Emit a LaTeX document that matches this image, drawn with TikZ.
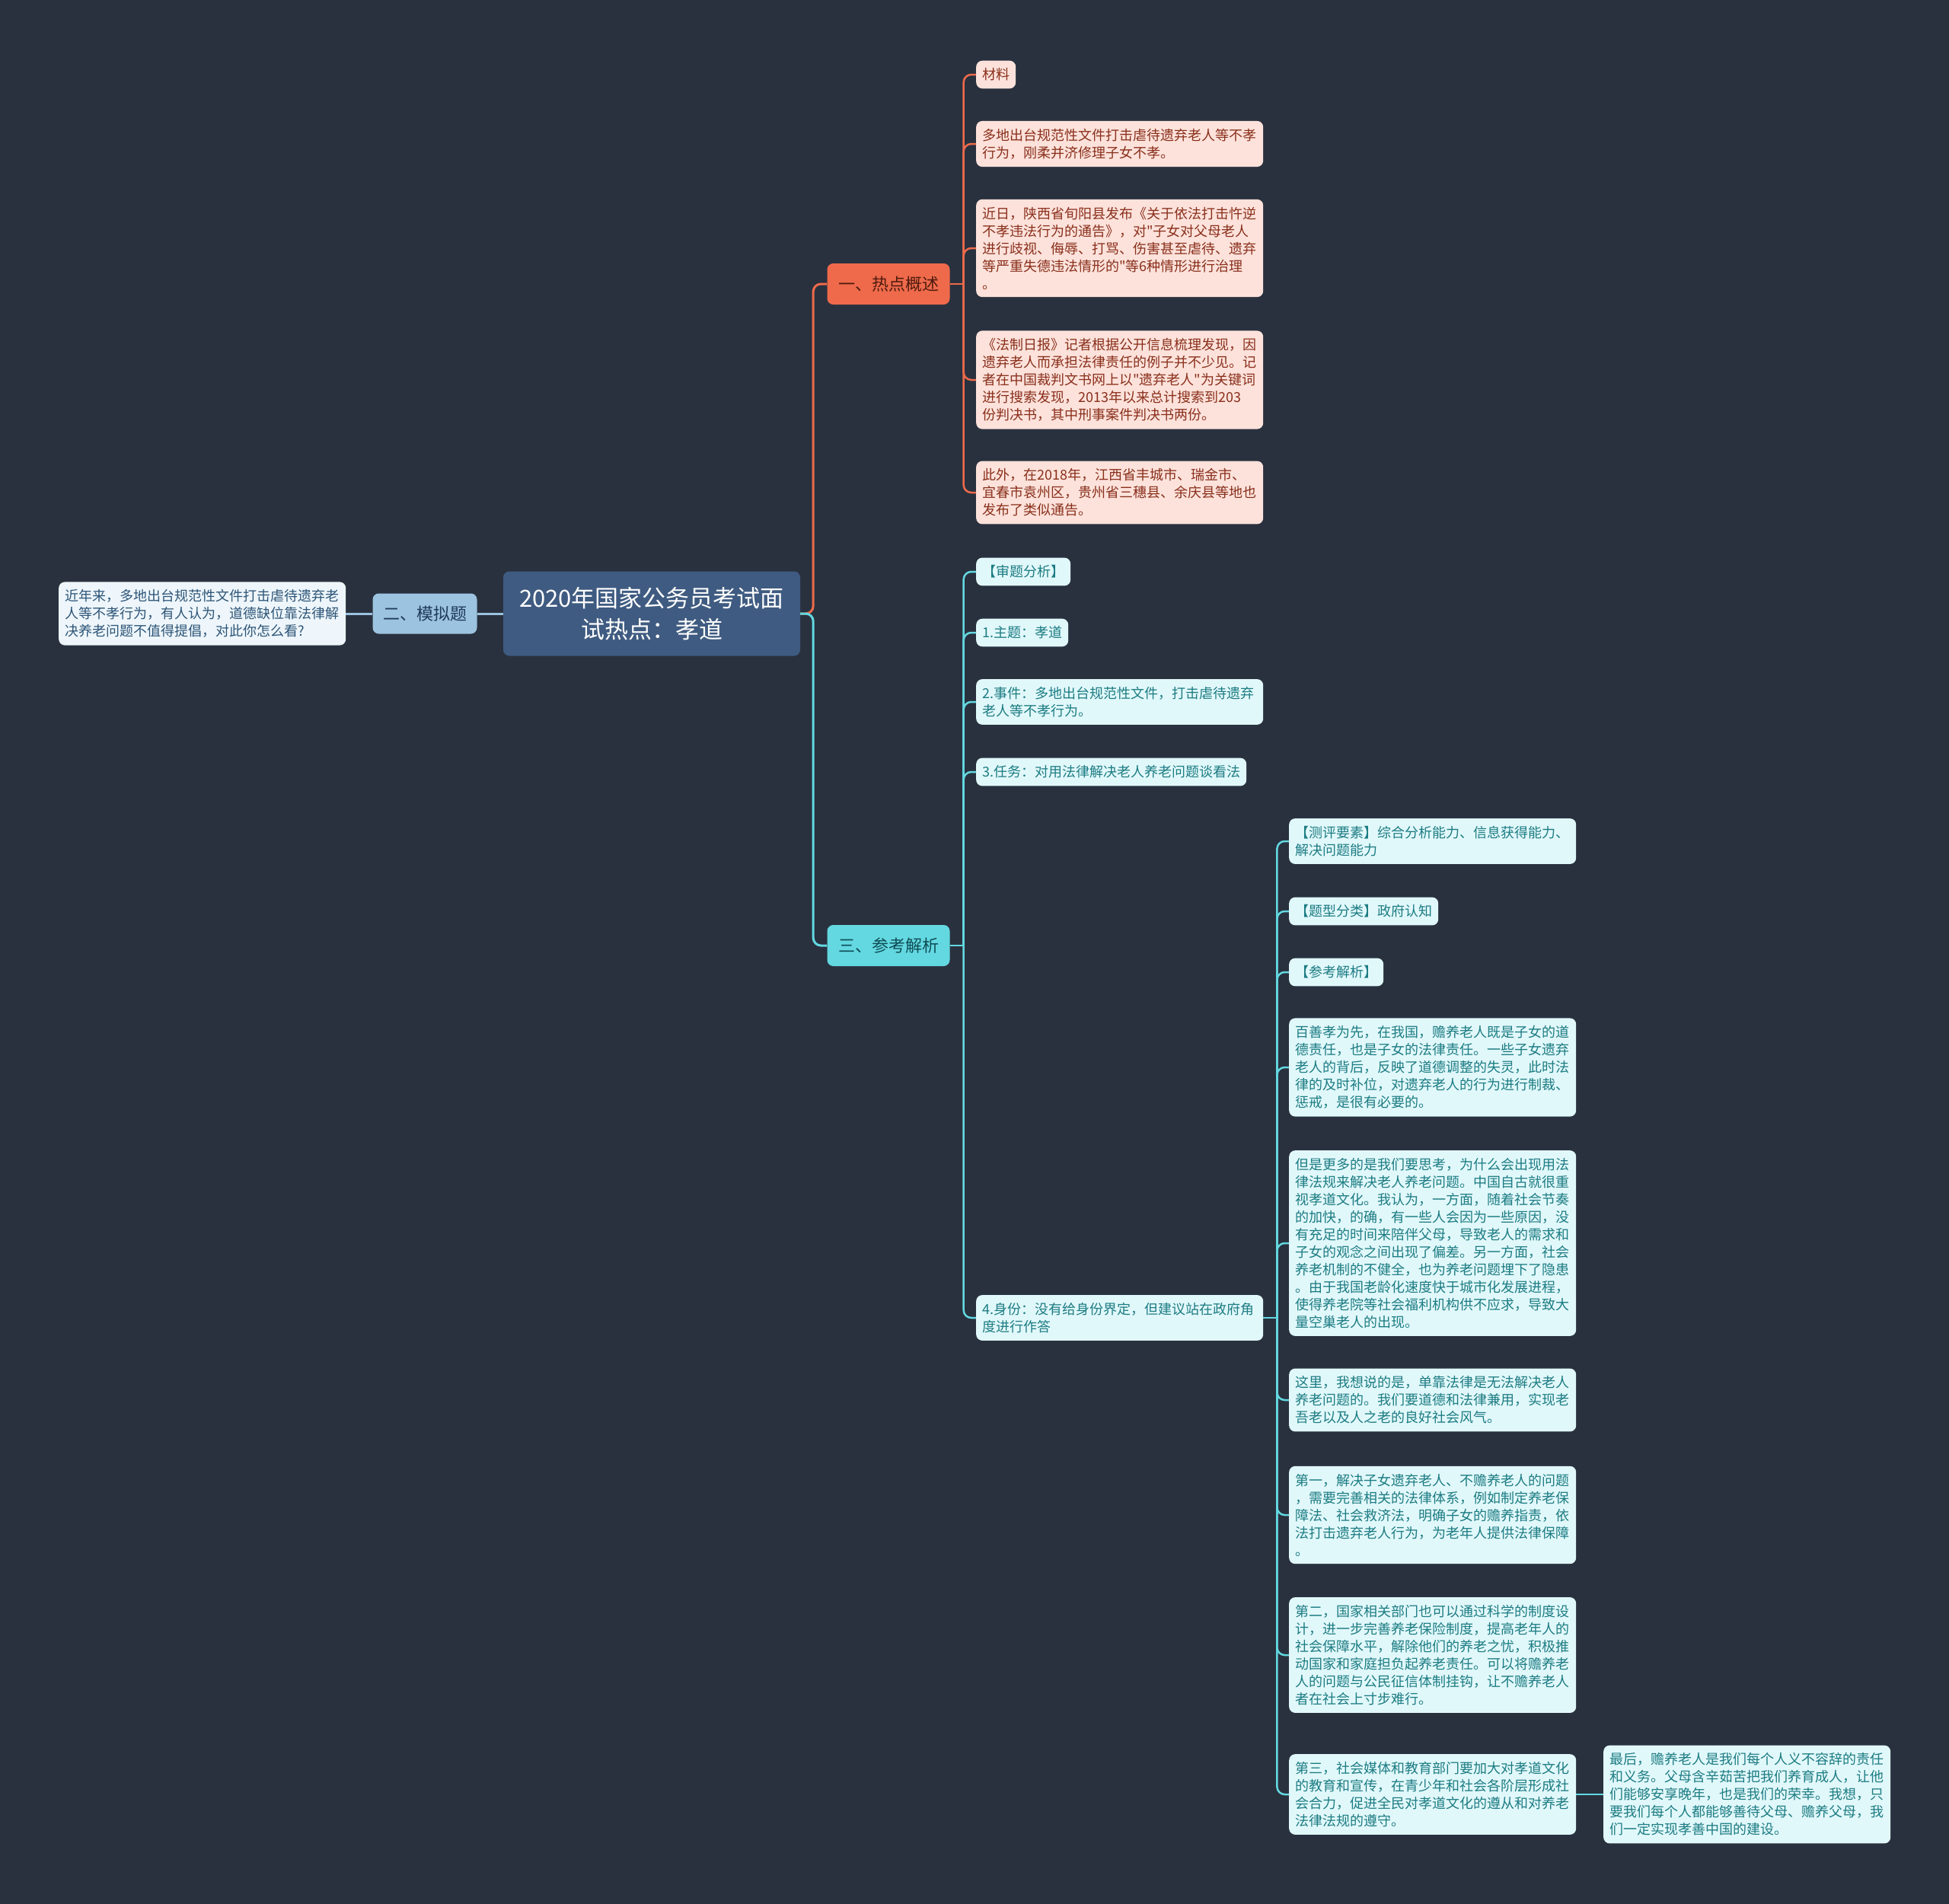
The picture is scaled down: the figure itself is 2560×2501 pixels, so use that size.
\documentclass[tikz,border=0pt]{standalone}
\usepackage{fontspec}
\setmainfont{Noto Sans CJK SC}[Ligatures=TeXOff]
\definecolor{bg}{HTML}{29313F}
\definecolor{rootfill}{HTML}{3F5B81}
\definecolor{simfill}{HTML}{9CC3DF}
\definecolor{simtext}{HTML}{1F3B5C}
\definecolor{qfill}{HTML}{EEF6FB}
\definecolor{qtext}{HTML}{2D5577}
\definecolor{hotfill}{HTML}{EE6A4B}
\definecolor{hottext}{HTML}{4E1B0F}
\definecolor{hotleaf}{HTML}{FCE2DB}
\definecolor{hotleaftext}{HTML}{8A2F1B}
\definecolor{reffill}{HTML}{63D8E0}
\definecolor{reftext}{HTML}{0F4D57}
\definecolor{refleaf}{HTML}{E1F8FA}
\definecolor{refleaftext}{HTML}{1C7C83}
\begin{document}
\begin{tikzpicture}[x=1pt,y=-1pt,
    box/.style={rounded corners=8pt,inner xsep=8pt,inner ysep=10pt},
    leaf/.style={box,anchor=west,align=left,font=\fontsize{18}{23}\selectfont},
    para/.style={leaf,text width=361pt},
    hotbox/.style={fill=hotleaf,text=hotleaftext},
    refbox/.style={fill=refleaf,text=refleaftext},
    branch/.style={box,align=center,minimum width=161pt,minimum height=54pt,font=\fontsize{22}{28}\selectfont},
    hotline/.style={draw=hotfill,line width=2.5pt,rounded corners=10pt},
    refline/.style={draw=reffill,line width=2.5pt,rounded corners=10pt},
    simline/.style={draw=simfill,line width=3pt}]

    % Background
    \fill[bg] (0,0) rectangle (2560,2501);
    \useasboundingbox (0,0) rectangle (2560,2501);

    % Root and left side
    \node[box,fill=rootfill,text=white,align=center,minimum width=390pt,minimum height=111pt,
          font=\fontsize{31}{41}\selectfont] (root) at (856,806) {2020年国家公务员考试面\\试热点：孝道};
    \node[box,fill=simfill,text=simtext,minimum width=137pt,minimum height=53pt,
          font=\fontsize{22}{28}\selectfont] (sim) at (558,806) {二、模拟题};
    \node[leaf,fill=qfill,text=qtext,text width=361pt] (simq) at (77,806)
        {近年来，多地出台规范性文件打击虐待遗弃老\\人等不孝行为，有人认为，道德缺位靠法律解\\决养老问题不值得提倡，对此你怎么看?};

    % Branches
    \node[branch,fill=hotfill,text=hottext] (hot) at (1167,373) {一、热点概述};
    \node[branch,fill=reffill,text=reftext] (ref) at (1167,1242) {三、参考解析};

    % Hot topic leaves
    \node[leaf,hotbox] (mat) at (1282,98) {材料};
    \node[para,hotbox] (hot1) at (1282,189) {多地出台规范性文件打击虐待遗弃老人等不孝\\行为，刚柔并济修理子女不孝。};
    \node[para,hotbox] (hot2) at (1282,326) {近日，陕西省旬阳县发布《关于依法打击忤逆\\不孝违法行为的通告》，对"子女对父母老人\\进行歧视、侮辱、打骂、伤害甚至虐待、遗弃\\等严重失德违法情形的"等6种情形进行治理\\。};
    \node[para,hotbox] (hot3) at (1282,499) {《法制日报》记者根据公开信息梳理发现，因\\遗弃老人而承担法律责任的例子并不少见。记\\者在中国裁判文书网上以"遗弃老人"为关键词\\进行搜索发现，2013年以来总计搜索到203\\份判决书，其中刑事案件判决书两份。};
    \node[para,hotbox] (hot4) at (1282,647) {此外，在2018年，江西省丰城市、瑞金市、\\宜春市袁州区，贵州省三穗县、余庆县等地也\\发布了类似通告。};

    % Analysis leaves
    \node[leaf,refbox] (ana) at (1282,751) {【审题分析】};
    \node[leaf,refbox] (ana1) at (1282,831) {1.主题：孝道};
    \node[para,refbox] (ana2) at (1282,922) {2.事件：多地出台规范性文件，打击虐待遗弃\\老人等不孝行为。};
    \node[leaf,refbox] (ana3) at (1282,1014) {3.任务：对用法律解决老人养老问题谈看法};
    \node[para,refbox] (ana4) at (1282,1731) {4.身份：没有给身份界定，但建议站在政府角\\度进行作答};

    % Answer leaves
    \node[para,refbox] (ans1) at (1693,1105) {【测评要素】综合分析能力、信息获得能力、\\解决问题能力};
    \node[leaf,refbox] (ans2) at (1693,1197) {【题型分类】政府认知};
    \node[leaf,refbox] (ans3) at (1693,1277) {【参考解析】};
    \node[para,refbox] (ans4) at (1693,1402) {百善孝为先，在我国，赡养老人既是子女的道\\德责任，也是子女的法律责任。一些子女遗弃\\老人的背后，反映了道德调整的失灵，此时法\\律的及时补位，对遗弃老人的行为进行制裁、\\惩戒，是很有必要的。};
    \node[para,refbox] (ans5) at (1693,1633) {但是更多的是我们要思考，为什么会出现用法\\律法规来解决老人养老问题。中国自古就很重\\视孝道文化。我认为，一方面，随着社会节奏\\的加快，的确，有一些人会因为一些原因，没\\有充足的时间来陪伴父母，导致老人的需求和\\子女的观念之间出现了偏差。另一方面，社会\\养老机制的不健全，也为养老问题埋下了隐患\\。由于我国老龄化速度快于城市化发展进程，\\使得养老院等社会福利机构供不应求，导致大\\量空巢老人的出现。};
    \node[para,refbox] (ans6) at (1693,1839) {这里，我想说的是，单靠法律是无法解决老人\\养老问题的。我们要道德和法律兼用，实现老\\吾老以及人之老的良好社会风气。};
    \node[para,refbox] (ans7) at (1693,1990) {第一，解决子女遗弃老人、不赡养老人的问题\\，需要完善相关的法律体系，例如制定养老保\\障法、社会救济法，明确子女的赡养指责，依\\法打击遗弃老人行为，为老年人提供法律保障\\。};
    \node[para,refbox] (ans8) at (1693,2174) {第二，国家相关部门也可以通过科学的制度设\\计，进一步完善养老保险制度，提高老年人的\\社会保障水平，解除他们的养老之忧，积极推\\动国家和家庭担负起养老责任。可以将赡养老\\人的问题与公民征信体制挂钩，让不赡养老人\\者在社会上寸步难行。};
    \node[para,refbox] (ans9) at (1693,2357) {第三，社会媒体和教育部门要加大对孝道文化\\的教育和宣传，在青少年和社会各阶层形成社\\会合力，促进全民对孝道文化的遵从和对养老\\法律法规的遵守。};
    \node[para,refbox] (last) at (2106,2357) {最后，赡养老人是我们每个人义不容辞的责任\\和义务。父母含辛茹苦把我们养育成人，让他\\们能够安享晚年，也是我们的荣幸。我想，只\\要我们每个人都能够善待父母、赡养父母，我\\们一定实现孝善中国的建设。};

    % Connectors
    \draw[simline] (root.west) -- (sim.east);
    \draw[simline] (sim.west) -- (simq.east);
    \draw[hotline,line width=3pt] (root.east) -- ++(17,0) |- (hot.west);
    \draw[refline,line width=3pt] (root.east) -- ++(17,0) |- (ref.west);
    \draw[hotline] (hot.east) -- ++(18,0) coordinate (hotfork);
    \foreach \n in {mat,hot1,hot2,hot3,hot4}
        \draw[hotline] (hotfork) |- (\n.west);
    \draw[refline] (ref.east) -- ++(18,0) coordinate (reffork);
    \foreach \n in {ana,ana1,ana2,ana3,ana4}
        \draw[refline] (reffork) |- (\n.west);
    \draw[refline] (ana4.east) -- ++(18,0) coordinate (ansfork);
    \foreach \n in {ans1,ans2,ans3,ans4,ans5,ans6,ans7,ans8,ans9}
        \draw[refline] (ansfork) |- (\n.west);
    \draw[refline] (ans9.east) -- (last.west);
\end{tikzpicture}
\end{document}
